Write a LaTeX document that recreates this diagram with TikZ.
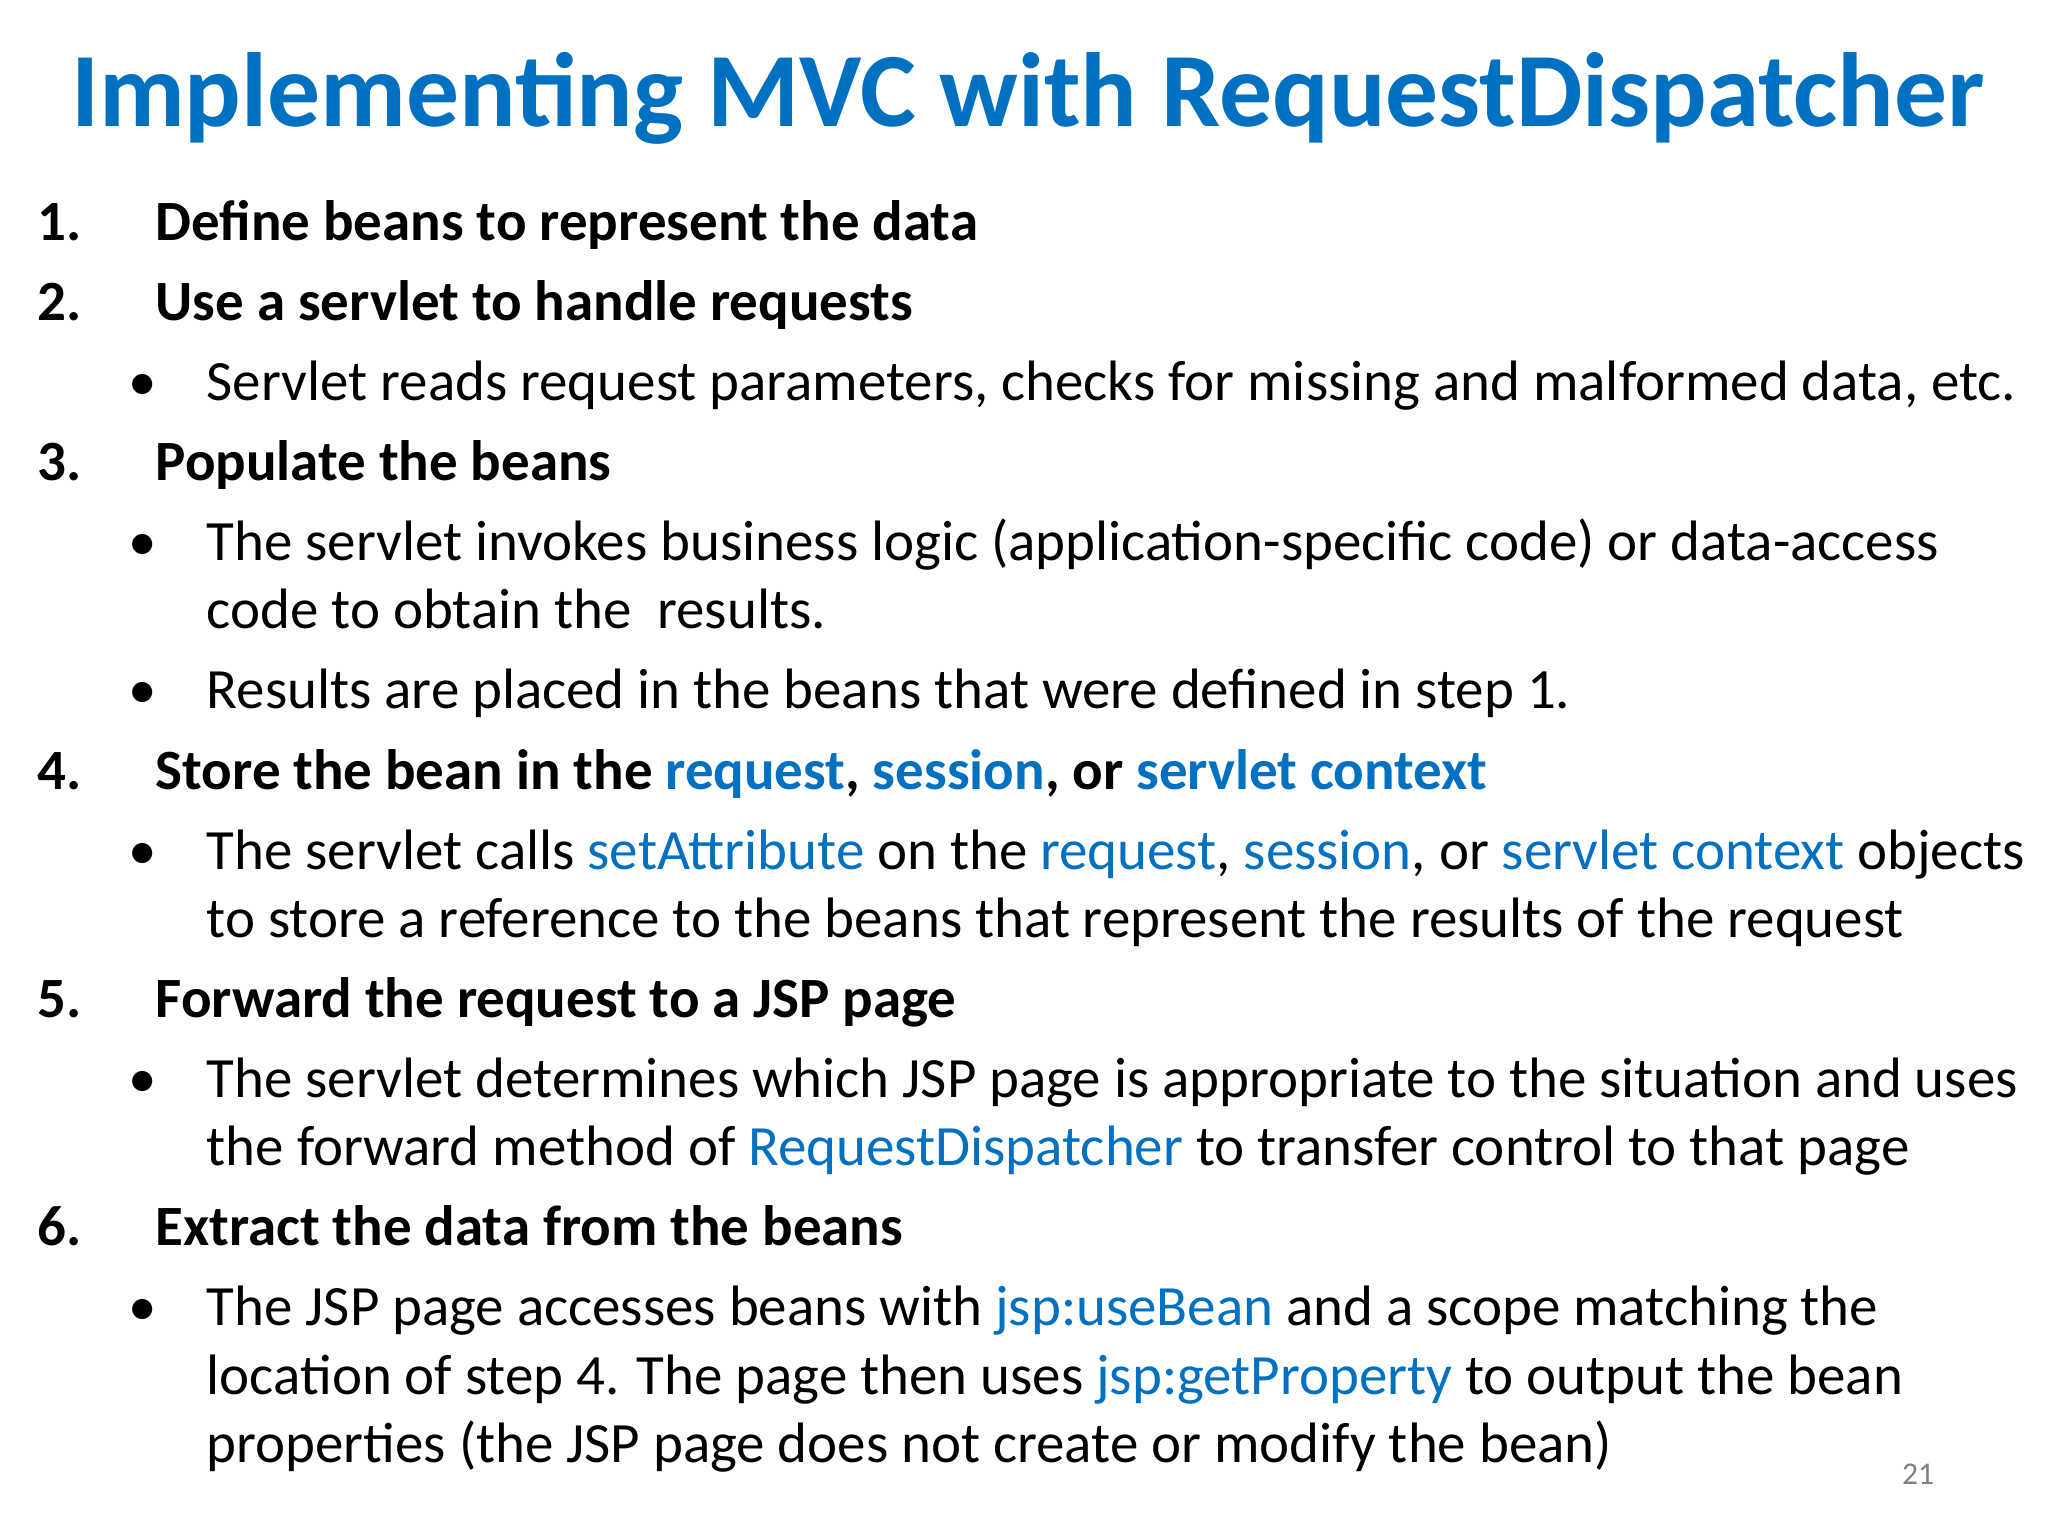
\documentclass[tikz,border=0pt]{standalone}
\usepackage{fontspec}
\setmainfont{Carlito}
\definecolor{mblue}{RGB}{0,112,192}
\begin{document}
\begin{tikzpicture}[x=0.013128cm,y=-0.013128cm,
  t/.style={anchor=base west,inner sep=0pt,font=\fontsize{16.2pt}{19pt}\selectfont},
  tb/.style={t,font=\fontsize{16.2pt}{19pt}\selectfont\bfseries}]
\fill[white] (0,0) rectangle (1560,1170);
\newcommand\hl[1]{\textcolor{mblue}{#1}}
\node[anchor=base,inner sep=0pt,text=mblue,font=\fontsize{30pt}{34pt}\selectfont\bfseries] (title) at (783,96) {Implementing MVC with RequestDispatcher};
% numbers
\foreach \n/\y in {1/183,2/244,3/366,4/601,5/775,6/949} \node[tb] (n\n) at (28,\y) {\n.};
\foreach \y in {305,427,540,662,836,1010} \node[t] (b\y) at (97,\y) {•};
\node[tb] (i1) at (118,183) {Define beans to represent the data};
\node[tb] (i2) at (118,244) {Use a servlet to handle requests};
\node[t] (s1) at (157,305) {Servlet reads request parameters, checks for missing and malformed data, etc.};
\node[tb] (i3) at (118,366) {Populate the beans};
\node[t] (s2) at (157,427) {The servlet invokes business logic (application-specific code) or data-access};
\node[t] (s2b) at (157,479) {code to obtain the\ \ results.};
\node[t] (s3) at (157,540) {Results are placed in the beans that were defined in step 1.};
\node[tb] (i4) at (118,601) {Store the bean in the \hl{request}, \hl{session}, or \hl{servlet context}};
\node[t] (s4) at (157,662) {The servlet calls \hl{setAttribute} on the \hl{request}, \hl{session}, or \hl{servlet context} objects};
\node[t] (s4b) at (157,714) {to store a reference to the beans that represent the results of the request};
\node[tb] (i5) at (118,775) {Forward the request to a JSP page};
\node[t] (s5) at (157,836) {The servlet determines which JSP page is appropriate to the situation and uses};
\node[t] (s5b) at (157,888) {the forward method of \hl{RequestDispatcher} to transfer control to that page};
\node[tb] (i6) at (118,949) {Extract the data from the beans};
\node[t] (s6) at (157,1010) {The JSP page accesses beans with \hl{jsp:useBean} and a scope matching the};
\node[t] (s6b) at (157,1062) {location of step 4. The page then uses \hl{jsp:getProperty} to output the bean};
\node[t] (s6c) at (157,1114) {properties (the JSP page does not create or modify the bean)};
\node[anchor=base,inner sep=0pt,text=gray,font=\fontsize{9pt}{11pt}\selectfont] (pg) at (1461,1131) {21};
\end{tikzpicture}
\end{document}
